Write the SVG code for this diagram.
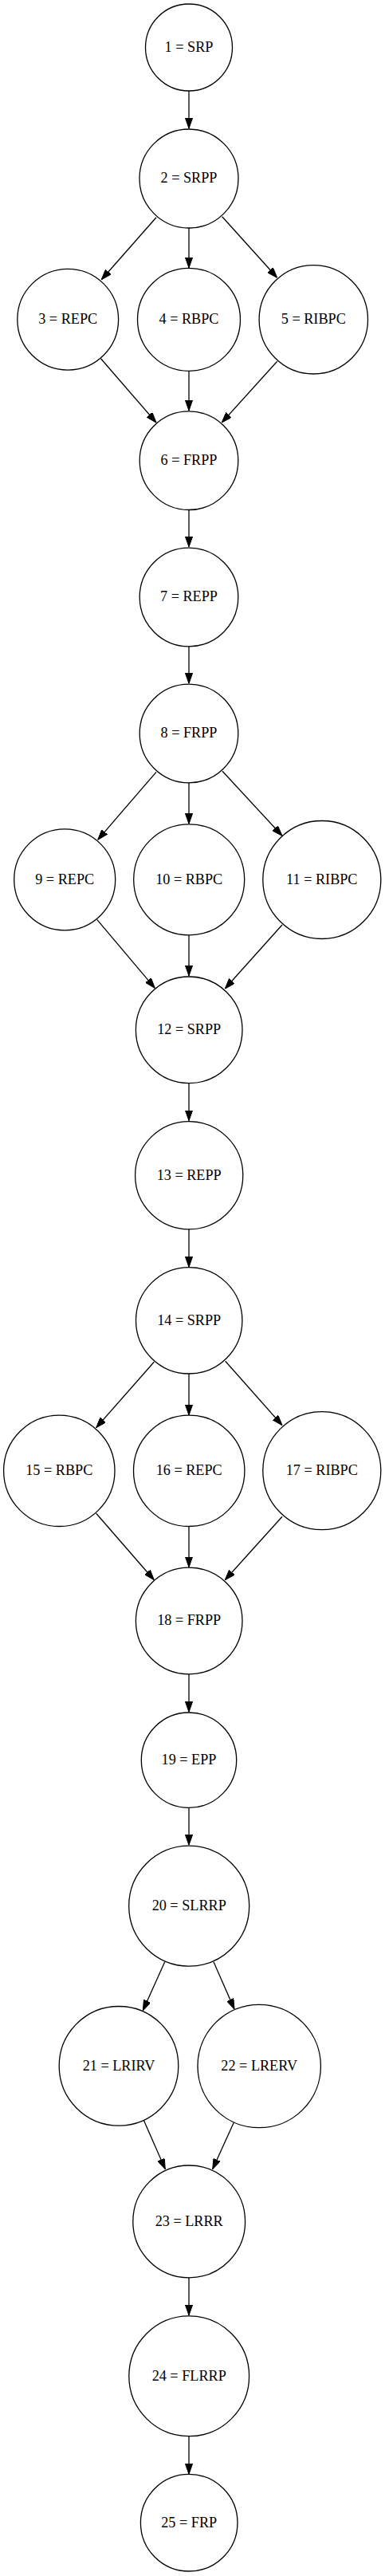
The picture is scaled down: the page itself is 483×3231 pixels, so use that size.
<svg xmlns="http://www.w3.org/2000/svg" width="483" height="3231" viewBox="0 0 483 3231">
<style>
.n circle{fill:none;stroke:#000;stroke-width:1.3}
.n text{font-family:"Liberation Serif","Times New Roman",serif;font-size:18.2px;text-anchor:middle;fill:#000}
#edges line{stroke:#000;stroke-width:1.3;marker-end:url(#ah)}
</style>
<defs>
<marker id="ah" markerUnits="userSpaceOnUse" viewBox="0 0 13 9.1" refX="13" refY="4.55" markerWidth="13" markerHeight="9.1" orient="auto">
<path d="M0,0 L13,4.55 L0,9.1 Z" fill="#000" stroke="#000" stroke-width="1"/>
</marker>
</defs>
<rect width="483" height="3231" fill="#fff"/>
<g id="edges">
<line x1="237" y1="114" x2="237" y2="161"/>
<line x1="196" y1="272.7" x2="127.3" y2="350.7"/>
<line x1="237" y1="285.7" x2="237" y2="336"/>
<line x1="278.7" y1="271.7" x2="347.7" y2="348.3"/>
<line x1="126.7" y1="450" x2="196" y2="530"/>
<line x1="237" y1="465" x2="237" y2="515"/>
<line x1="347.7" y1="453.3" x2="278.3" y2="530"/>
<line x1="237" y1="639.3" x2="237" y2="686"/>
<line x1="237" y1="810.7" x2="237" y2="857.3"/>
<line x1="196" y1="968.3" x2="122.7" y2="1053.3"/>
<line x1="237" y1="981.7" x2="237" y2="1033.3"/>
<line x1="279" y1="967.3" x2="354" y2="1048.3"/>
<line x1="121.7" y1="1153.3" x2="194.3" y2="1239.3"/>
<line x1="237" y1="1172.7" x2="237" y2="1224"/>
<line x1="354" y1="1160" x2="282.3" y2="1240"/>
<line x1="237" y1="1358.7" x2="237" y2="1405.7"/>
<line x1="237" y1="1541.7" x2="237" y2="1589.3"/>
<line x1="193.3" y1="1708.3" x2="120.7" y2="1790.7"/>
<line x1="237" y1="1723" x2="237" y2="1775"/>
<line x1="282.7" y1="1707.3" x2="354" y2="1787.7"/>
<line x1="120.7" y1="1898.3" x2="193.3" y2="1981.7"/>
<line x1="237" y1="1914.7" x2="237" y2="1965.7"/>
<line x1="354" y1="1902.3" x2="282.3" y2="1981.7"/>
<line x1="237" y1="2100" x2="237" y2="2147.3"/>
<line x1="237" y1="2267.3" x2="237" y2="2314.3"/>
<line x1="206.7" y1="2460.7" x2="179.3" y2="2521.7"/>
<line x1="268" y1="2460.7" x2="294" y2="2520"/>
<line x1="180.3" y1="2659.3" x2="207.3" y2="2720.7"/>
<line x1="293.3" y1="2662.3" x2="266.7" y2="2720.7"/>
<line x1="237" y1="2856.7" x2="237" y2="2904"/>
<line x1="237" y1="3055.7" x2="237" y2="3103.3"/>
</g>
<g id="n1" class="n"><circle cx="237" cy="59.5" r="54.5"/><text x="237" y="65">1 = SRP</text></g>
<g id="n2" class="n"><circle cx="237" cy="224" r="62"/><text x="237" y="229.4">2 = SRPP</text></g>
<g id="n3" class="n"><circle cx="85.2" cy="400.7" r="63.4"/><text x="85.2" y="406.1">3 = REPC</text></g>
<g id="n4" class="n"><circle cx="237" cy="400.8" r="64.5"/><text x="237" y="406.2">4 = RBPC</text></g>
<g id="n5" class="n"><circle cx="393.3" cy="400.8" r="68.2"/><text x="393.3" y="406.2">5 = RIBPC</text></g>
<g id="n6" class="n"><circle cx="237" cy="577.7" r="61.8"/><text x="237" y="583.1">6 = FRPP</text></g>
<g id="n7" class="n"><circle cx="237" cy="749" r="61.8"/><text x="237" y="754.4">7 = REPP</text></g>
<g id="n8" class="n"><circle cx="237" cy="920" r="61.8"/><text x="237" y="925.4">8 = FRPP</text></g>
<g id="n9" class="n"><circle cx="81.2" cy="1103.3" r="63.5"/><text x="81.2" y="1108.7">9 = REPC</text></g>
<g id="n10" class="n"><circle cx="237.2" cy="1103.3" r="69.5"/><text x="237.2" y="1108.7">10 = RBPC</text></g>
<g id="n11" class="n"><circle cx="403.8" cy="1103.5" r="74"/><text x="403.8" y="1108.9">11 = RIBPC</text></g>
<g id="n12" class="n"><circle cx="237.2" cy="1291.8" r="66.8"/><text x="237.2" y="1297.2">12 = SRPP</text></g>
<g id="n13" class="n"><circle cx="237.2" cy="1474.2" r="67.6"/><text x="237.2" y="1479.6">13 = REPP</text></g>
<g id="n14" class="n"><circle cx="237.2" cy="1656.3" r="66.7"/><text x="237.2" y="1661.7">14 = SRPP</text></g>
<g id="n15" class="n"><circle cx="74.3" cy="1844.8" r="69.7"/><text x="74.3" y="1850.2">15 = RBPC</text></g>
<g id="n16" class="n"><circle cx="237.2" cy="1844.8" r="69.7"/><text x="237.2" y="1850.2">16 = REPC</text></g>
<g id="n17" class="n"><circle cx="403.8" cy="1844.7" r="74"/><text x="403.8" y="1850.1">17 = RIBPC</text></g>
<g id="n18" class="n"><circle cx="237.2" cy="2033" r="66.8"/><text x="237.2" y="2038.4">18 = FRPP</text></g>
<g id="n19" class="n"><circle cx="237" cy="2207.7" r="59.7"/><text x="237" y="2213.1">19 = EPP</text></g>
<g id="n20" class="n"><circle cx="237.2" cy="2390.6" r="75.5"/><text x="237.2" y="2396">20 = SLRRP</text></g>
<g id="n21" class="n"><circle cx="149" cy="2591.3" r="74.8"/><text x="149" y="2596.7">21 = LRIRV</text></g>
<g id="n22" class="n"><circle cx="325.2" cy="2591.5" r="77.2"/><text x="325.2" y="2596.9">22 = LRERV</text></g>
<g id="n23" class="n"><circle cx="237.2" cy="2786.4" r="70.4"/><text x="237.2" y="2791.8">23 = LRRR</text></g>
<g id="n24" class="n"><circle cx="237.2" cy="2980.3" r="75.4"/><text x="237.2" y="2985.7">24 = FLRRP</text></g>
<g id="n25" class="n"><circle cx="237.2" cy="3164.2" r="60.8"/><text x="237.2" y="3169.6">25 = FRP</text></g>
</svg>
